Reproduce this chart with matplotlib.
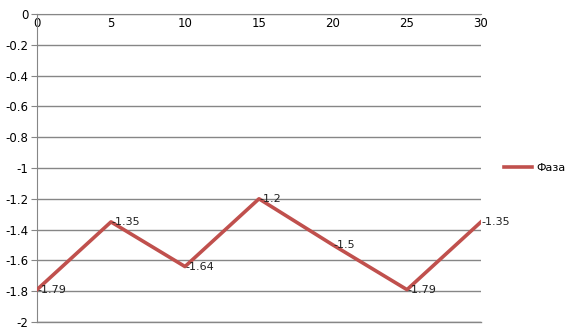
import matplotlib.pyplot as plt

x = [0, 5, 10, 15, 20, 25, 30]
faza = [-1.79, -1.35, -1.64, -1.2, -1.5, -1.79, -1.35]
labels = ["-1.79", "-1.35", "-1.64", "-1.2", "-1.5", "-1.79", "-1.35"]

plt.rcParams['font.family'] = ['DejaVu Sans']
fig = plt.figure(figsize=(5.76, 3.36), dpi=100)
ax = fig.add_axes([37 / 576, 1 - 322 / 336, (481 - 37) / 576, (322 - 14) / 336])

line_color = '#C0504D'
ax.plot(x, faza, color=line_color, lw=2.6, label='Фаза', zorder=3)

for xi, yi, lab in zip(x, faza, labels):
    ax.annotate(lab, (xi, yi), xytext=(0.5, 0), textcoords='offset points',
                ha='left', va='center', fontsize=8, color='#202020', zorder=4)

ax.set_xlim(0, 30)
ax.set_ylim(-2, 0)
ax.set_xticks(range(0, 31, 5))
ax.set_yticks([i * -0.2 for i in range(11)])
ax.set_yticklabels(['0', '-0.2', '-0.4', '-0.6', '-0.8', '-1', '-1.2', '-1.4', '-1.6', '-1.8', '-2'])

ax.grid(axis='y', color='#868686', lw=1)
ax.axhline(-2, color='#868686', lw=1, clip_on=False)
ax.set_axisbelow(True)
for s in ['right', 'top']:
    ax.spines[s].set_visible(False)
ax.spines['bottom'].set_position(('data', 0))
ax.spines['bottom'].set_color('#868686')
ax.spines['left'].set_color('#868686')
ax.tick_params(axis='x', length=0, pad=2, labelsize=8.5)
ax.tick_params(axis='y', length=4, color='#868686', pad=2, labelsize=8.5)

ax.legend(loc='center left', bbox_to_anchor=(1.03, 0.5), frameon=False,
          fontsize=8, handlelength=2.5, handletextpad=0.4)

fig.savefig('out.png', dpi=100)
